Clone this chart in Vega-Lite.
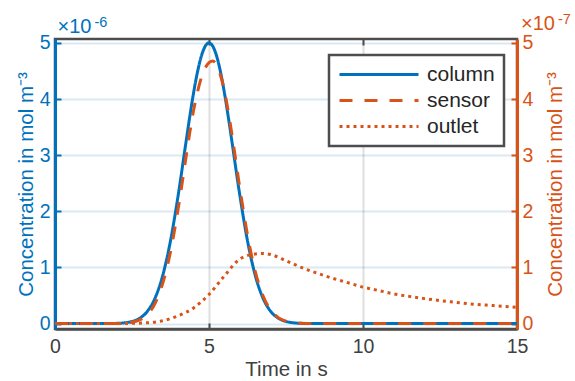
{
  "$schema": "https://vega.github.io/schema/vega-lite/v6.json",
  "autosize": {"type": "none"},
  "width": 462,
  "height": 290,
  "padding": {"left": 55, "top": 39, "right": 58, "bottom": 52},
  "config": {
    "font": "Liberation Sans",
    "view": {"stroke": "#4d4d4d", "strokeWidth": 2.5},
    "axis": {"labelFont": "Liberation Sans", "titleFont": "Liberation Sans", "titleFontWeight": "normal", "labelFontSize": 19.5, "titleFontSize": 20.5},
    "legend": {"labelFont": "Liberation Sans", "labelFontSize": 21, "labelColor": "#262626", "symbolType": "stroke", "symbolSize": 6241, "symbolStrokeWidth": 3,
      "strokeColor": "#4d4d4d", "strokeWidth": 2.5, "fillColor": "white", "padding": 9, "rowPadding": 4, "clipHeight": 21, "labelOffset": 7, "cornerRadius": 0}
  },
  "datasets": {
    "curves": [
      {"t": 0, "series": "column", "c": 0},
      {"t": 1, "series": "column", "c": 0},
      {"t": 1.5, "series": "column", "c": 0},
      {"t": 2, "series": "column", "c": 4.4e-9},
      {"t": 2.25, "series": "column", "c": 1.36e-8},
      {"t": 2.5, "series": "column", "c": 3.79e-8},
      {"t": 2.75, "series": "column", "c": 9.58e-8},
      {"t": 3, "series": "column", "c": 2.20e-7},
      {"t": 3.25, "series": "column", "c": 4.57e-7},
      {"t": 3.5, "series": "column", "c": 8.62e-7},
      {"t": 3.75, "series": "column", "c": 1.475e-6},
      {"t": 4, "series": "column", "c": 2.289e-6},
      {"t": 4.25, "series": "column", "c": 3.222e-6},
      {"t": 4.375, "series": "column", "c": 3.686e-6},
      {"t": 4.5, "series": "column", "c": 4.113e-6},
      {"t": 4.625, "series": "column", "c": 4.480e-6},
      {"t": 4.75, "series": "column", "c": 4.762e-6},
      {"t": 4.875, "series": "column", "c": 4.939e-6},
      {"t": 5, "series": "column", "c": 5.0e-6},
      {"t": 5.125, "series": "column", "c": 4.939e-6},
      {"t": 5.25, "series": "column", "c": 4.762e-6},
      {"t": 5.375, "series": "column", "c": 4.480e-6},
      {"t": 5.5, "series": "column", "c": 4.113e-6},
      {"t": 5.625, "series": "column", "c": 3.686e-6},
      {"t": 5.75, "series": "column", "c": 3.222e-6},
      {"t": 6, "series": "column", "c": 2.289e-6},
      {"t": 6.25, "series": "column", "c": 1.475e-6},
      {"t": 6.5, "series": "column", "c": 8.62e-7},
      {"t": 6.75, "series": "column", "c": 4.57e-7},
      {"t": 7, "series": "column", "c": 2.20e-7},
      {"t": 7.25, "series": "column", "c": 9.58e-8},
      {"t": 7.5, "series": "column", "c": 3.79e-8},
      {"t": 7.75, "series": "column", "c": 1.36e-8},
      {"t": 8, "series": "column", "c": 4.4e-9},
      {"t": 8.5, "series": "column", "c": 0},
      {"t": 10, "series": "column", "c": 0},
      {"t": 12, "series": "column", "c": 0},
      {"t": 15, "series": "column", "c": 0},
      {"t": 0, "series": "sensor", "c": 0},
      {"t": 1, "series": "sensor", "c": 0},
      {"t": 1.5, "series": "sensor", "c": 0},
      {"t": 2, "series": "sensor", "c": 3e-10},
      {"t": 2.25, "series": "sensor", "c": 9e-10},
      {"t": 2.5, "series": "sensor", "c": 2.5e-9},
      {"t": 2.75, "series": "sensor", "c": 6.5e-9},
      {"t": 3, "series": "sensor", "c": 1.6e-8},
      {"t": 3.25, "series": "sensor", "c": 3.6e-8},
      {"t": 3.5, "series": "sensor", "c": 7.2e-8},
      {"t": 3.75, "series": "sensor", "c": 1.28e-7},
      {"t": 4, "series": "sensor", "c": 2.05e-7},
      {"t": 4.25, "series": "sensor", "c": 2.95e-7},
      {"t": 4.375, "series": "sensor", "c": 3.40e-7},
      {"t": 4.5, "series": "sensor", "c": 3.80e-7},
      {"t": 4.625, "series": "sensor", "c": 4.12e-7},
      {"t": 4.75, "series": "sensor", "c": 4.38e-7},
      {"t": 4.875, "series": "sensor", "c": 4.55e-7},
      {"t": 5, "series": "sensor", "c": 4.65e-7},
      {"t": 5.125, "series": "sensor", "c": 4.68e-7},
      {"t": 5.25, "series": "sensor", "c": 4.60e-7},
      {"t": 5.375, "series": "sensor", "c": 4.42e-7},
      {"t": 5.5, "series": "sensor", "c": 4.15e-7},
      {"t": 5.625, "series": "sensor", "c": 3.78e-7},
      {"t": 5.75, "series": "sensor", "c": 3.35e-7},
      {"t": 6, "series": "sensor", "c": 2.42e-7},
      {"t": 6.25, "series": "sensor", "c": 1.58e-7},
      {"t": 6.5, "series": "sensor", "c": 9.3e-8},
      {"t": 6.75, "series": "sensor", "c": 5.0e-8},
      {"t": 7, "series": "sensor", "c": 2.4e-8},
      {"t": 7.25, "series": "sensor", "c": 1.07e-8},
      {"t": 7.5, "series": "sensor", "c": 4.3e-9},
      {"t": 7.75, "series": "sensor", "c": 1.5e-9},
      {"t": 8, "series": "sensor", "c": 5e-10},
      {"t": 8.5, "series": "sensor", "c": 0},
      {"t": 10, "series": "sensor", "c": 0},
      {"t": 12, "series": "sensor", "c": 0},
      {"t": 15, "series": "sensor", "c": 0},
      {"t": 0, "series": "outlet", "c": 0},
      {"t": 1, "series": "outlet", "c": 0},
      {"t": 2, "series": "outlet", "c": 2e-10},
      {"t": 2.5, "series": "outlet", "c": 5e-10},
      {"t": 3, "series": "outlet", "c": 1.5e-9},
      {"t": 3.5, "series": "outlet", "c": 5e-9},
      {"t": 4, "series": "outlet", "c": 1.4e-8},
      {"t": 4.5, "series": "outlet", "c": 2.8e-8},
      {"t": 5, "series": "outlet", "c": 5.2e-8},
      {"t": 5.5, "series": "outlet", "c": 8.5e-8},
      {"t": 6, "series": "outlet", "c": 1.15e-7},
      {"t": 6.5, "series": "outlet", "c": 1.24e-7},
      {"t": 6.75, "series": "outlet", "c": 1.25e-7},
      {"t": 7, "series": "outlet", "c": 1.23e-7},
      {"t": 7.5, "series": "outlet", "c": 1.12e-7},
      {"t": 8, "series": "outlet", "c": 1.0e-7},
      {"t": 8.5, "series": "outlet", "c": 9.0e-8},
      {"t": 9, "series": "outlet", "c": 8.1e-8},
      {"t": 9.5, "series": "outlet", "c": 7.3e-8},
      {"t": 10, "series": "outlet", "c": 6.5e-8},
      {"t": 10.5, "series": "outlet", "c": 5.9e-8},
      {"t": 11, "series": "outlet", "c": 5.3e-8},
      {"t": 11.5, "series": "outlet", "c": 4.85e-8},
      {"t": 12, "series": "outlet", "c": 4.45e-8},
      {"t": 12.5, "series": "outlet", "c": 4.1e-8},
      {"t": 13, "series": "outlet", "c": 3.8e-8},
      {"t": 13.5, "series": "outlet", "c": 3.5e-8},
      {"t": 14, "series": "outlet", "c": 3.3e-8},
      {"t": 14.5, "series": "outlet", "c": 3.1e-8},
      {"t": 15, "series": "outlet", "c": 2.9e-8}
    ],
    "exponents": [
      {"axis": "left", "base": "×10", "power": "-6"},
      {"axis": "right", "base": "×10", "power": "-7"}
    ]
  },
  "data": {"name": "curves"},
  "layer": [
    {
      "layer": [
        {
          "transform": [{"filter": "datum.series === 'column'"}],
          "mark": {"type": "line", "strokeWidth": 3, "interpolate": "monotone"},
          "encoding": {
            "x": {"field": "t", "type": "quantitative", "scale": {"domain": [0, 15], "nice": false, "zero": false},
              "axis": {"orient": "bottom", "values": [0, 5, 10, 15], "title": "Time in s", "titleColor": "#404040", "labelColor": "#404040",
                "domainColor": "#4d4d4d", "domainWidth": 2.5, "tickColor": "#4d4d4d", "tickWidth": 2, "tickSize": -6, "labelPadding": 14, "titlePadding": 4,
                "grid": true, "gridColor": "#262626", "gridOpacity": 0.15, "gridWidth": 2, "labelFlush": false}},
            "y": {"field": "c", "type": "quantitative", "scale": {"domain": [-0.096e-6, 5.07e-6], "nice": false, "zero": false},
              "axis": {"orient": "left", "values": [0, 1e-6, 2e-6, 3e-6, 4e-6, 5e-6], "labelExpr": "format(datum.value*1e6, 'd')",
                "title": "Concentration in mol m⁻³", "titleColor": "#0072BD", "labelColor": "#0072BD",
                "domainColor": "#0072BD", "domainWidth": 3, "tickColor": "#0072BD", "tickWidth": 2, "tickSize": -6, "labelPadding": 11, "titlePadding": 3,
                "grid": true, "gridColor": "#0072BD", "gridOpacity": 0.15, "gridWidth": 2}},
            "color": {"field": "series", "type": "nominal", "scale": {"domain": ["column", "sensor", "outlet"], "range": ["#0072BD", "#D95319", "#D95319"]},
              "legend": {"title": null, "orient": "none", "legendX": 274, "legendY": 16}},
            "strokeDash": {"field": "series", "type": "nominal", "scale": {"domain": ["column", "sensor", "outlet"], "range": [[1, 0], [13, 12], [3, 4]]},
              "legend": {"title": null, "orient": "none", "legendX": 274, "legendY": 16}}
          }
        },
        {
          "data": {"name": "exponents"},
          "transform": [{"filter": "datum.axis === 'left'"}],
          "mark": {"type": "text", "align": "left", "baseline": "alphabetic", "dx": 2.5, "dy": -6.3, "fontSize": 20, "color": "#0072BD"},
          "encoding": {
            "text": {"field": "base"},
            "x": {"datum": 0, "type": "quantitative"},
            "y": {"datum": 5.07e-6, "type": "quantitative"}
          }
        },
        {
          "data": {"name": "exponents"},
          "transform": [{"filter": "datum.axis === 'left'"}],
          "mark": {"type": "text", "align": "left", "baseline": "alphabetic", "dx": 39.5, "dy": -12, "fontSize": 14.5, "color": "#0072BD"},
          "encoding": {
            "text": {"field": "power"},
            "x": {"datum": 0, "type": "quantitative"},
            "y": {"datum": 5.07e-6, "type": "quantitative"}
          }
        }
      ]
    },
    {
      "layer": [
        {
          "transform": [{"filter": "datum.series !== 'column'"}],
          "mark": {"type": "line", "strokeWidth": 3, "interpolate": "monotone"},
          "encoding": {
            "x": {"field": "t", "type": "quantitative", "scale": {"domain": [0, 15], "nice": false, "zero": false},
              "axis": {"orient": "top", "values": [5, 10], "labels": false, "title": null, "domain": false, "tickColor": "#4d4d4d", "tickWidth": 2, "tickSize": -6, "grid": false}},
            "y": {"field": "c", "type": "quantitative", "scale": {"domain": [-0.096e-7, 5.07e-7], "nice": false, "zero": false},
              "axis": {"orient": "right", "values": [0, 1e-7, 2e-7, 3e-7, 4e-7, 5e-7], "labelExpr": "format(datum.value*1e7, 'd')",
                "title": "Concentration in mol m⁻³", "titleColor": "#D95319", "labelColor": "#D95319", "titleAngle": 270, "titleBaseline": "top",
                "domainColor": "#D95319", "domainWidth": 3, "tickColor": "#D95319", "tickWidth": 2, "tickSize": -6, "labelPadding": 11, "titlePadding": 13,
                "grid": false}},
            "color": {"field": "series", "type": "nominal", "scale": {"domain": ["column", "sensor", "outlet"], "range": ["#0072BD", "#D95319", "#D95319"]},
              "legend": {"title": null, "orient": "none", "legendX": 274, "legendY": 16}},
            "strokeDash": {"field": "series", "type": "nominal", "scale": {"domain": ["column", "sensor", "outlet"], "range": [[1, 0], [13, 12], [3, 4]]},
              "legend": {"title": null, "orient": "none", "legendX": 274, "legendY": 16}}
          }
        },
        {
          "data": {"name": "exponents"},
          "transform": [{"filter": "datum.axis === 'right'"}],
          "mark": {"type": "text", "align": "left", "baseline": "alphabetic", "dx": 4, "dy": -9.3, "fontSize": 20, "color": "#D95319"},
          "encoding": {
            "text": {"field": "base"},
            "x": {"datum": 15, "type": "quantitative"},
            "y": {"datum": 5.07e-7, "type": "quantitative"}
          }
        },
        {
          "data": {"name": "exponents"},
          "transform": [{"filter": "datum.axis === 'right'"}],
          "mark": {"type": "text", "align": "left", "baseline": "alphabetic", "dx": 41, "dy": -15, "fontSize": 14.5, "color": "#D95319"},
          "encoding": {
            "text": {"field": "power"},
            "x": {"datum": 15, "type": "quantitative"},
            "y": {"datum": 5.07e-7, "type": "quantitative"}
          }
        }
      ]
    }
  ],
  "resolve": {"scale": {"y": "independent"}, "axis": {"x": "independent"}}
}
